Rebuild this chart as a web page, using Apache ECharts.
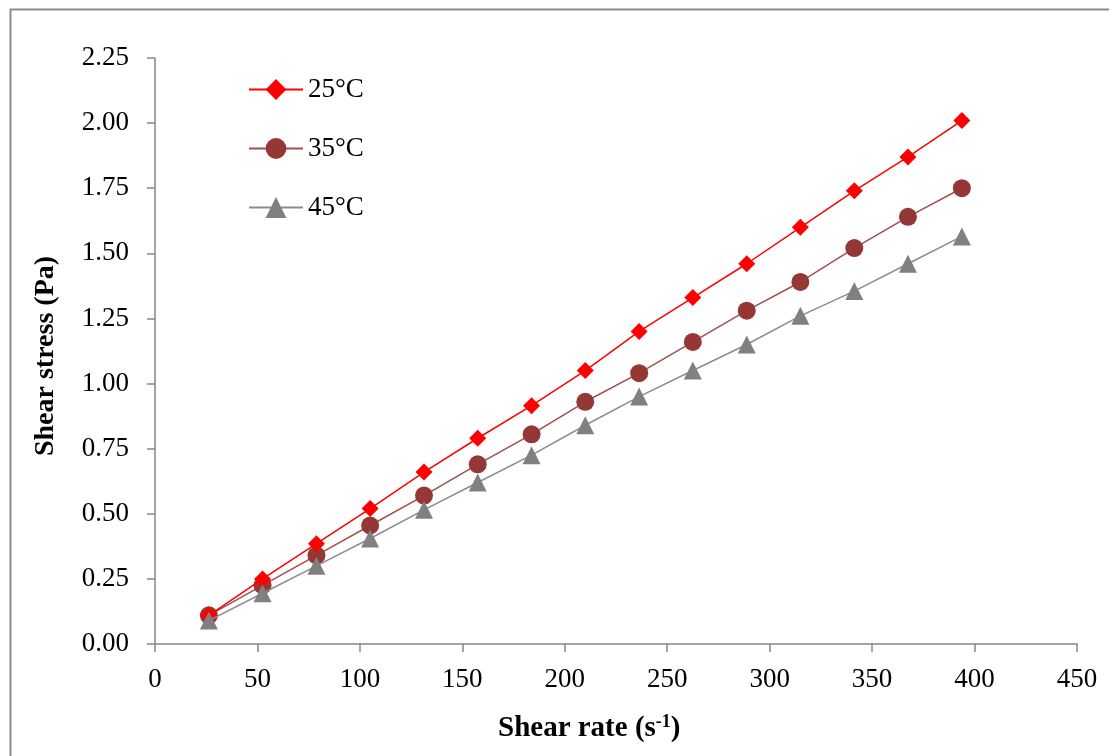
<!DOCTYPE html>
<html>
<head>
<meta charset="utf-8">
<script src="https://cdn.jsdelivr.net/npm/echarts@6/dist/echarts.min.js"></script>
<style>
  html, body { margin: 0; padding: 0; background: #fff; }
  #chart { width: 1109px; height: 756px; }
</style>
</head>
<body>
<div id="chart"></div>
<script>
// Shear rate (s^-1) at each measurement step
const shearRate = [26.3, 52.5, 78.8, 105, 131.3, 157.5, 183.8, 210, 236.3, 262.5, 288.8, 315, 341.3, 367.5, 393.8];

// Shear stress (Pa) per temperature
const stress25 = [0.11, 0.25, 0.385, 0.52, 0.66, 0.79, 0.915, 1.05, 1.20, 1.33, 1.46, 1.60, 1.74, 1.87, 2.01];
const stress35 = [0.11, 0.225, 0.34, 0.455, 0.57, 0.69, 0.805, 0.93, 1.04, 1.16, 1.28, 1.39, 1.52, 1.64, 1.75];
const stress45 = [0.09, 0.195, 0.30, 0.405, 0.515, 0.62, 0.725, 0.84, 0.95, 1.05, 1.15, 1.26, 1.355, 1.46, 1.565];

const seriesNames = ['25°C', '35°C', '45°C'];

const FONT = '"Liberation Serif", "Times New Roman", serif';
const AXIS_GRAY = '#868686';

const pairs = ys => shearRate.map((x, i) => [x, ys[i]]);

const chart = echarts.init(document.getElementById('chart'), null, { renderer: 'canvas' });

chart.setOption({
  backgroundColor: '#ffffff',
  animation: false,
  grid: { left: 155, top: 58, right: 32, bottom: 112, containLabel: false },
  legend: {
    orient: 'vertical',
    left: 243,
    top: 71,
    itemWidth: 54,
    itemHeight: 26,
    itemGap: 32,
    textStyle: { fontFamily: FONT, fontSize: 27, color: '#000' },
    data: seriesNames
  },
  xAxis: {
    type: 'value',
    min: 0, max: 450, interval: 50,
    axisLine: { show: true, lineStyle: { color: AXIS_GRAY, width: 1.5 } },
    axisTick: { show: true, length: 8, lineStyle: { color: AXIS_GRAY, width: 1.5 } },
    axisLabel: { margin: 22, fontFamily: FONT, fontSize: 27, color: '#000' },
    splitLine: { show: false }
  },
  yAxis: {
    type: 'value',
    min: 0, max: 2.25, interval: 0.25,
    axisLine: { show: true, lineStyle: { color: AXIS_GRAY, width: 1.5 } },
    axisTick: { show: true, length: 8, lineStyle: { color: AXIS_GRAY, width: 1.5 } },
    axisLabel: {
      margin: 26, fontFamily: FONT, fontSize: 27, color: '#000',
      formatter: v => v.toFixed(2)
    },
    splitLine: { show: false }
  },
  graphic: [
    {
      type: 'rect', left: 8, top: 7, silent: true, z: -1,
      shape: { width: 1130, height: 780 },
      style: { fill: 'none', stroke: '#8c8c8c', lineWidth: 2 }
    },
    {
      type: 'text', left: 498, top: 713,
      style: {
        text: '{b|Shear rate (s}{sup|-1}{b|)}',
        rich: {
          b: { fontFamily: FONT, fontSize: 29, fontWeight: 'bold', fill: '#000', verticalAlign: 'bottom' },
          sup: { fontFamily: FONT, fontSize: 18, fontWeight: 'bold', fill: '#000', verticalAlign: 'top', padding: [0, 0, 12, 0] }
        }
      }
    },
    {
      type: 'text', x: 46, y: 356, rotation: Math.PI / 2,
      style: {
        text: 'Shear stress (Pa)',
        fontFamily: FONT, fontSize: 28, fontWeight: 'bold', fill: '#000',
        align: 'center', verticalAlign: 'middle'
      }
    }
  ],
  series: [
    {
      name: seriesNames[0], type: 'line', data: pairs(stress25),
      symbol: 'diamond', symbolSize: 17,
      itemStyle: { color: '#ff0000' },
      lineStyle: { color: '#ff0000', width: 1.5 },
      z: 4
    },
    {
      name: seriesNames[1], type: 'line', data: pairs(stress35),
      symbol: 'circle', symbolSize: 18,
      itemStyle: { color: '#953735' },
      lineStyle: { color: '#a0504e', width: 1.5 },
      z: 3
    },
    {
      name: seriesNames[2], type: 'line', data: pairs(stress45),
      symbol: 'triangle', symbolSize: 18,
      itemStyle: { color: '#808080' },
      lineStyle: { color: '#8c8c8c', width: 1.5 },
      z: 5
    }
  ]
});
</script>
</body>
</html>
